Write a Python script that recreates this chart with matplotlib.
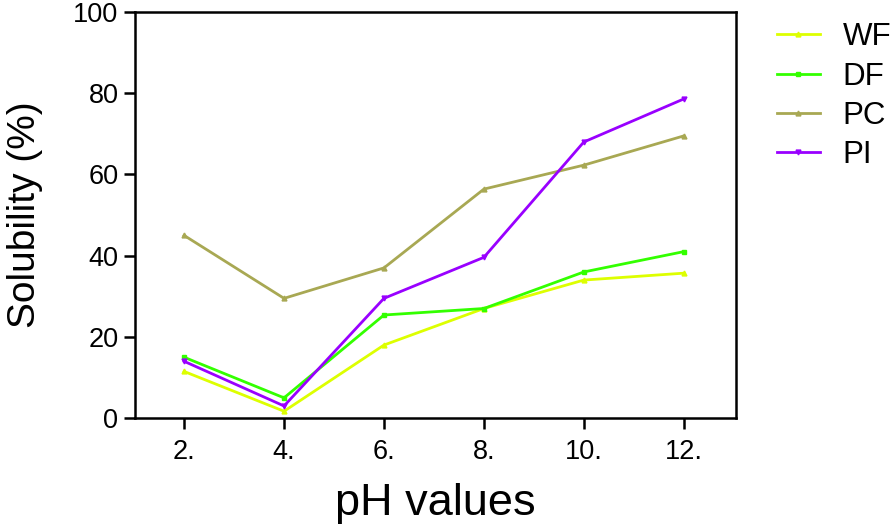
import matplotlib.pyplot as plt

ph = [2, 4, 6, 8, 10, 12]
ph_labels = ["2.", "4.", "6.", "8.", "10.", "12."]
wf = [11.5, 1.7, 18.0, 27.0, 34.0, 35.7]
df = [15.0, 5.0, 25.4, 27.0, 36.0, 41.0]
pc = [45.0, 29.5, 37.0, 56.4, 62.3, 69.5]
pi = [14.0, 3.0, 29.5, 39.6, 68.0, 78.6]

names = ["WF", "DF", "PC", "PI"]
colors = ["#ddff00", "#33ff00", "#a8a853", "#9900ff"]
markers = ["^", "s", "^", "v"]

plt.rcParams['font.family'] = ['Liberation Sans', 'DejaVu Sans']

fig = plt.figure(figsize=(8.95, 5.24), dpi=100)
ax = fig.add_axes([0.151, 0.202, 0.671, 0.775])

for vals, name, c, m in zip([wf, df, pc, pi], names, colors, markers):
    ax.plot(ph, vals, color=c, lw=2, marker=m, ms=3.5, label=name)

ax.set_xlim(1.02, 13.04)
ax.set_ylim(0, 100)
ax.set_xticks(ph)
ax.set_xticklabels(ph_labels)
ax.set_yticks([0, 20, 40, 60, 80, 100])
ax.tick_params(axis='both', labelsize=19.5, width=1.8, direction='out')
ax.tick_params(axis='x', length=8, pad=7)
ax.tick_params(axis='y', length=8, pad=4)
for s in ax.spines.values():
    s.set_linewidth(1.8)

ax.set_xlabel("pH values", fontsize=32.5, labelpad=13)
ax.set_ylabel("Solubility (%)", fontsize=28, labelpad=22)

ax.legend(loc='upper left', bbox_to_anchor=(1.068, 0.975), frameon=False,
          borderaxespad=0, borderpad=0,
          fontsize=22.5, handlelength=1.4, handletextpad=0.72, labelspacing=0.3)

fig.savefig("out.png", dpi=100)
